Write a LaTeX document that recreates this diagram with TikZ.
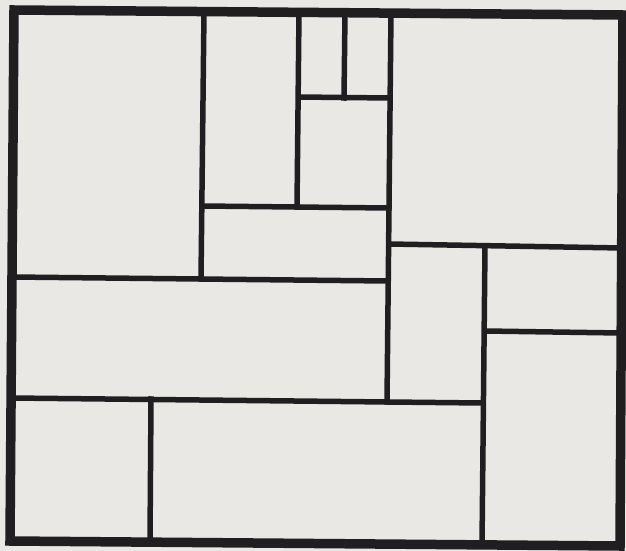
\documentclass[tikz,border=0pt]{standalone}
\definecolor{paper}{RGB}{233,232,228}
\definecolor{ink}{RGB}{32,30,32}
\begin{document}
\begin{tikzpicture}[x=1pt,y=-1pt,
  frame/.style={draw=ink,line width=9.5pt,line join=miter},
  bar/.style={draw=ink,line width=5.5pt,line cap=rect}]
\fill[paper] (0,0) rectangle (626,551);
\useasboundingbox (0,0) rectangle (626,551);
% outer frame corners
\coordinate (TL) at (14,10);
\coordinate (TR) at (623,15);
\coordinate (BR) at (620,546);
\coordinate (BL) at (10,541);
\draw[frame] (TL) -- (TR) -- (BR) -- (BL) -- cycle;
% vertical bars
\coordinate (v1t) at (204,11); \coordinate (v1b) at (201,279);
\coordinate (v2t) at (299,12); \coordinate (v2b) at (297,207);
\coordinate (v3t) at (345,13); \coordinate (v3b) at (344,98);
\coordinate (v4t) at (391,13); \coordinate (v4b) at (387,402);
\coordinate (v5t) at (485,246); \coordinate (v5b) at (482,545);
\coordinate (v6t) at (151,399); \coordinate (v6b) at (150,542);
\draw[bar] (v1t) -- (v1b);
\draw[bar] (v2t) -- (v2b);
\draw[bar] (v3t) -- (v3b);
\draw[bar] (v4t) -- (v4b);
\draw[bar] (v5t) -- (v5b);
\draw[bar] (v6t) -- (v6b);
% horizontal bars
\coordinate (h1l) at (299,97); \coordinate (h1r) at (390,98);
\coordinate (h2l) at (202,206); \coordinate (h2r) at (389,208);
\coordinate (h3l) at (12,277); \coordinate (h3r) at (388,281);
\coordinate (h4l) at (389,244); \coordinate (h4r) at (622,248);
\coordinate (h5l) at (485,331); \coordinate (h5r) at (621,333);
\coordinate (h6l) at (11,398); \coordinate (h6r) at (483,403);
\draw[bar] (h1l) -- (h1r);
\draw[bar] (h2l) -- (h2r);
\draw[bar] (h3l) -- (h3r);
\draw[bar] (h4l) -- (h4r);
\draw[bar] (h5l) -- (h5r);
\draw[bar] (h6l) -- (h6r);
\end{tikzpicture}
\end{document}
